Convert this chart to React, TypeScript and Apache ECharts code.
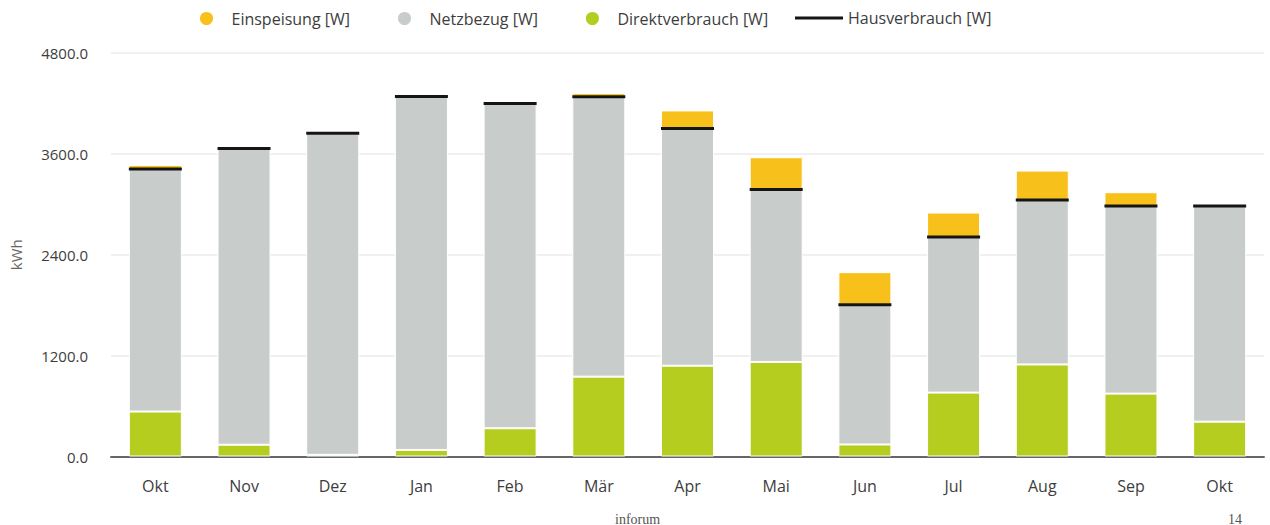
import React, { useEffect, useRef } from "react";
import * as echarts from "echarts";

const months = ["Okt", "Nov", "Dez", "Jan", "Feb", "Mär", "Apr", "Mai", "Jun", "Jul", "Aug", "Sep", "Okt"];
const direktverbrauch = [535, 140, 20, 78, 336, 950, 1080, 1125, 143, 760, 1095, 748, 414];
const netzbezug = [2885, 3525, 3826, 4205, 3864, 3330, 2822, 2050, 1663, 1851, 1955, 2232, 2566];
const einspeisung = [49, 0, 0, 0, 0, 43, 215, 385, 387, 291, 351, 164, 17];
const hausverbrauch = [3420, 3665, 3846, 4283, 4200, 4280, 3902, 3175, 1806, 2611, 3050, 2980, 2980];
const yTicks = [0, 1200, 2400, 3600, 4800];

const FONT = "'Open Sans', 'Noto Sans', sans-serif";

export default function App() {
  const ref = useRef<HTMLDivElement>(null);
  useEffect(() => {
    if (!ref.current) return;
    const chart = echarts.init(ref.current, undefined, { renderer: "svg" });
    const yMin = yTicks[0];
    const yMax = yTicks[yTicks.length - 1];
    const yInt = yTicks[1] - yTicks[0];
    chart.setOption({
      animation: false,
      backgroundColor: "#ffffff",
      textStyle: { fontFamily: FONT },
      legend: [
        {
          left: 193,
          top: 5,
          itemWidth: 40,
          itemHeight: 15,
          itemGap: 46,
          icon: "circle",
          textStyle: { fontFamily: FONT, fontSize: 16, color: "#3d3d3d" },
          data: ["Einspeisung [W]", "Netzbezug [W]", "Direktverbrauch [W]"],
        },
        {
          left: 790,
          top: 5,
          itemWidth: 48,
          itemHeight: 3,
          icon: "rect",
          textStyle: { fontFamily: FONT, fontSize: 16, color: "#3d3d3d" },
          data: ["Hausverbrauch [W]"],
        },
      ],
      grid: { left: 109, right: 6, top: 53, bottom: 68.5, containLabel: false },
      xAxis: {
        type: "category",
        data: months,
        axisLine: { lineStyle: { color: "#666666", width: 2 } },
        axisTick: { alignWithLabel: true, length: 7, lineStyle: { color: "#666666", width: 1.5 } },
        axisLabel: { color: "#3d3d3d", fontSize: 16, fontFamily: FONT, margin: 21 },
      },
      yAxis: {
        type: "value",
        min: yMin,
        max: yMax,
        interval: yInt,
        name: "kWh",
        nameLocation: "middle",
        nameGap: 88,
        nameTextStyle: { color: "#666666", fontSize: 15, fontFamily: FONT },
        axisLine: { show: false },
        axisTick: { show: false },
        axisLabel: {
          color: "#3d3d3d",
          fontSize: 15,
          fontFamily: FONT,
          margin: 23,
          formatter: (v: number) => v.toFixed(1),
        },
        splitLine: { lineStyle: { color: "#ebebeb", width: 1.5 } },
      },
      series: [
        {
          name: "Direktverbrauch [W]",
          type: "bar",
          stack: "total",
          barWidth: 53,
          data: direktverbrauch,
          itemStyle: { color: "#b4cd1f", borderColor: "#ffffff", borderWidth: 1 },
        },
        {
          name: "Netzbezug [W]",
          type: "bar",
          stack: "total",
          barWidth: 53,
          data: netzbezug,
          itemStyle: { color: "#c8cccb", borderColor: "#ffffff", borderWidth: 1 },
        },
        {
          name: "Einspeisung [W]",
          type: "bar",
          stack: "total",
          barWidth: 53,
          data: einspeisung,
          itemStyle: { color: "#f8c01a", borderColor: "#ffffff", borderWidth: 1 },
        },
        {
          name: "Hausverbrauch [W]",
          type: "scatter",
          symbol: "rect",
          symbolSize: [53, 3],
          data: hausverbrauch,
          itemStyle: { color: "#151515", opacity: 1 },
          z: 5,
        },
      ],
      graphic: [
        {
          type: "text",
          left: 615,
          top: 512,
          style: { text: "inforum", fontFamily: "'Liberation Serif', 'DejaVu Serif', serif", fontSize: 14, fill: "#555555" },
        },
        {
          type: "text",
          left: 1228,
          top: 512,
          style: { text: "14", fontFamily: "'Liberation Serif', 'DejaVu Serif', serif", fontSize: 14, fill: "#555555" },
        },
      ],
    });
    return () => chart.dispose();
  }, []);
  return (
    <div
      ref={ref}
      style={{ position: "absolute", left: 0, top: 0, width: 1270, height: 525 }}
    />
  );
}
